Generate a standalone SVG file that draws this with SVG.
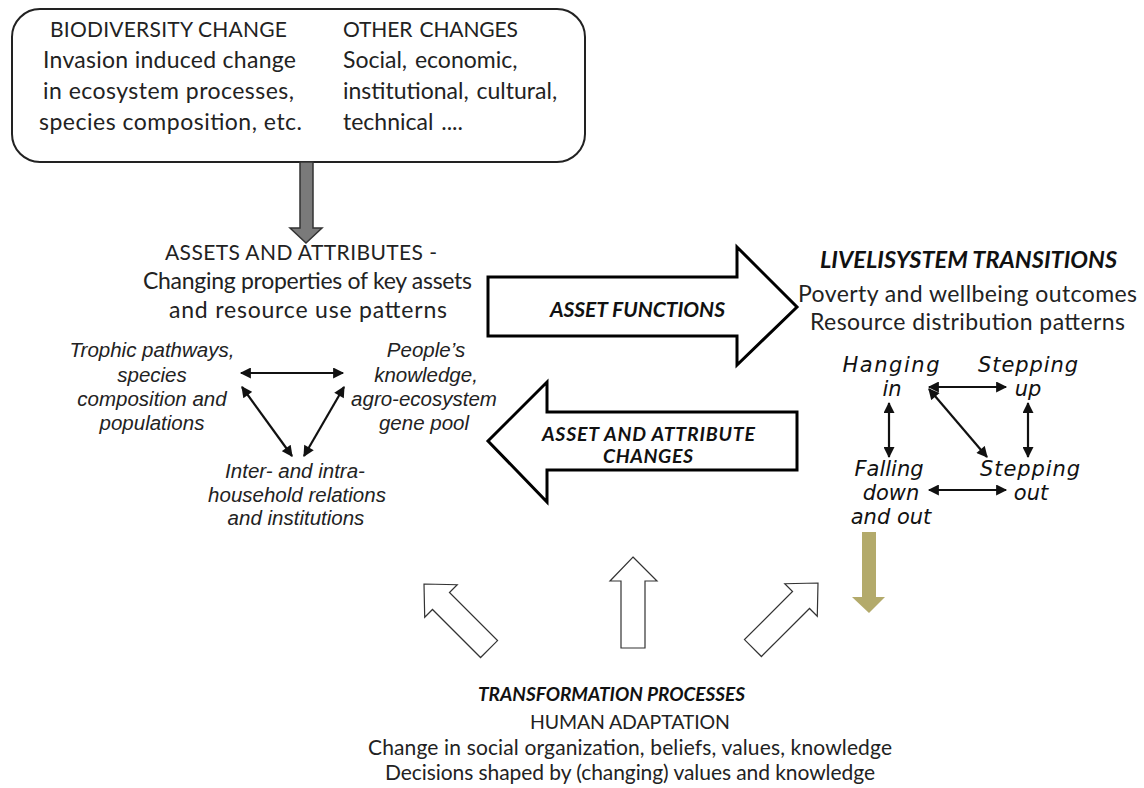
<svg xmlns="http://www.w3.org/2000/svg" width="1144" height="788" viewBox="0 0 1144 788">
<style>
.cal{font-family:Lato,"Open Sans","Liberation Sans",sans-serif;fill:#222;font-size:23px}
.caps{font-size:21px}
.calbi{font-family:Lato,"Open Sans","Liberation Sans",sans-serif;fill:#111;font-weight:bold;font-style:italic}
.ari{font-family:"Liberation Sans",Arial,sans-serif;font-style:italic;fill:#222;font-size:20.5px}
.st{font-family:"DejaVu Sans","Noto Sans",sans-serif;font-style:italic;fill:#111;font-size:21px}
.conn{stroke:#111;stroke-width:2.2;fill:none;marker-start:url(#ah);marker-end:url(#ah)}
.big{fill:#fff;stroke:#000;stroke-width:3;stroke-linejoin:miter}
.small{fill:#fff;stroke:#333;stroke-width:1.2}
</style>
<defs>
<marker id="ah" viewBox="0 0 10 10" refX="9" refY="5" markerWidth="5.5" markerHeight="5" orient="auto-start-reverse" markerUnits="strokeWidth">
<path d="M0,0 L10,5 L0,10 z" fill="#111"/>
</marker>
</defs>
<rect width="1144" height="788" fill="#fff"/>

<g id="changes-box">
<rect x="12" y="9" width="573" height="153" rx="28" ry="28" fill="#fff" stroke="#222" stroke-width="2"/>
<g class="cal">
<text class="caps" x="50" y="37" textLength="237">BIODIVERSITY CHANGE</text>
<text x="43" y="68" textLength="253">Invasion induced change</text>
<text x="43" y="99" textLength="251">in ecosystem processes,</text>
<text x="39" y="130" textLength="263">species composition, etc.</text>
</g>
<g class="cal" word-spacing="2">
<text class="caps" x="343" y="37" textLength="175">OTHER CHANGES</text>
<text x="343" y="68">Social, economic,</text>
<text x="343" y="99">institutional, cultural,</text>
<text x="343" y="130">technical ....</text>
</g>
</g>

<g id="assets-attributes">
<g class="cal">
<text class="caps" x="165" y="260" textLength="272">ASSETS AND ATTRIBUTES  -</text>
<text x="143" y="289" textLength="329">Changing properties of key assets</text>
<text x="169" y="318" textLength="278">and resource use patterns</text>
</g>
</g>

<g id="trophic">
<g class="ari" text-anchor="middle">
<text x="152" y="357">Trophic pathways,</text>
<text x="152" y="382">species</text>
<text x="152" y="406">composition and</text>
<text x="152" y="430">populations</text>
</g>
</g>
<g id="knowledge">
<g class="ari" text-anchor="middle">
<text x="426" y="357">People’s</text>
<text x="426" y="382">knowledge,</text>
<text x="424" y="406">agro-ecosystem</text>
<text x="424" y="430">gene pool</text>
</g>
</g>
<g id="household">
<g class="ari" text-anchor="middle">
<text x="295" y="478">Inter- and intra-</text>
<text x="297" y="502">household relations</text>
<text x="296" y="525">and institutions</text>
</g>
</g>

<g id="livelisystem">
<text class="calbi" x="820" y="268" font-size="23.5" textLength="297">LIVELISYSTEM TRANSITIONS</text>
<g class="cal">
<text x="798" y="302" textLength="339">Poverty and wellbeing outcomes</text>
<text x="810" y="330" textLength="315">Resource distribution patterns</text>
</g>
</g>

<g id="hanging-in" class="st" text-anchor="middle">
<text x="891" y="372" textLength="97">Hanging</text>
<text x="892" y="396">in</text>
</g>
<g id="stepping-up" class="st" text-anchor="middle">
<text x="1028" y="372" textLength="100">Stepping</text>
<text x="1028" y="396">up</text>
</g>
<g id="falling" class="st" text-anchor="middle">
<text x="889" y="476">Falling</text>
<text x="891" y="500">down</text>
<text x="891" y="524">and out</text>
</g>
<g id="stepping-out" class="st" text-anchor="middle">
<text x="1030" y="476" textLength="100">Stepping</text>
<text x="1031" y="500">out</text>
</g>

<g id="transformation">
<text class="calbi" x="478" y="701" font-size="19" textLength="267">TRANSFORMATION  PROCESSES</text>
<g class="cal">
<text x="530" y="729" font-size="19.5" textLength="200">HUMAN ADAPTATION</text>
<text x="368" y="755" font-size="21" textLength="524">Change in social organization, beliefs,  values, knowledge</text>
<text x="385" y="780" font-size="21" textLength="490">Decisions shaped by (changing) values and knowledge</text>
</g>
</g>

<g id="connectors">
<polygon points="300,162 313,162 313,228 322,228 306,243 290,228 300,228" fill="#7a7a7a" stroke="#333" stroke-width="1.5"/>
<g id="asset-functions">
<polygon class="big" points="488,277 737,277 737,247 797,307 737,365 737,336 488,336"/>
<text class="calbi" x="550" y="317" font-size="21" textLength="175">ASSET  FUNCTIONS</text>
</g>
<g id="asset-attribute-changes">
<polygon class="big" points="797,412 547,412 547,382 488,441 547,502 547,470 797,470"/>
<text class="calbi" x="542" y="441" font-size="19.5" textLength="213">ASSET AND ATTRIBUTE</text>
<text class="calbi" x="603" y="463" font-size="19.5" textLength="90">CHANGES</text>
</g>
<line class="conn" x1="241" y1="373" x2="343" y2="373"/>
<line class="conn" x1="242" y1="387" x2="292" y2="456"/>
<line class="conn" x1="344" y1="387" x2="304" y2="456"/>
<line class="conn" x1="929" y1="387" x2="1006" y2="387"/>
<line class="conn" x1="889" y1="403" x2="889" y2="457"/>
<line class="conn" x1="1028" y1="403" x2="1028" y2="457"/>
<line class="conn" x1="929" y1="389" x2="987" y2="457"/>
<line class="conn" x1="929" y1="490" x2="1006" y2="490"/>
<polygon points="862,532 876,532 876,597 885,597 869,613 852,597 862,597" fill="#b3aa6b"/>
<polygon class="small" transform="translate(424,584) rotate(-45)" points="0,0 23,24 12,24 12,92 -12,92 -12,24 -23,24"/>
<polygon class="small" points="633,557 657,581 645,581 645,648 621,648 621,581 610,581"/>
<polygon class="small" transform="translate(818,583) rotate(45)" points="0,0 23,24 12,24 12,92 -12,92 -12,24 -23,24"/>
</g>
</svg>
